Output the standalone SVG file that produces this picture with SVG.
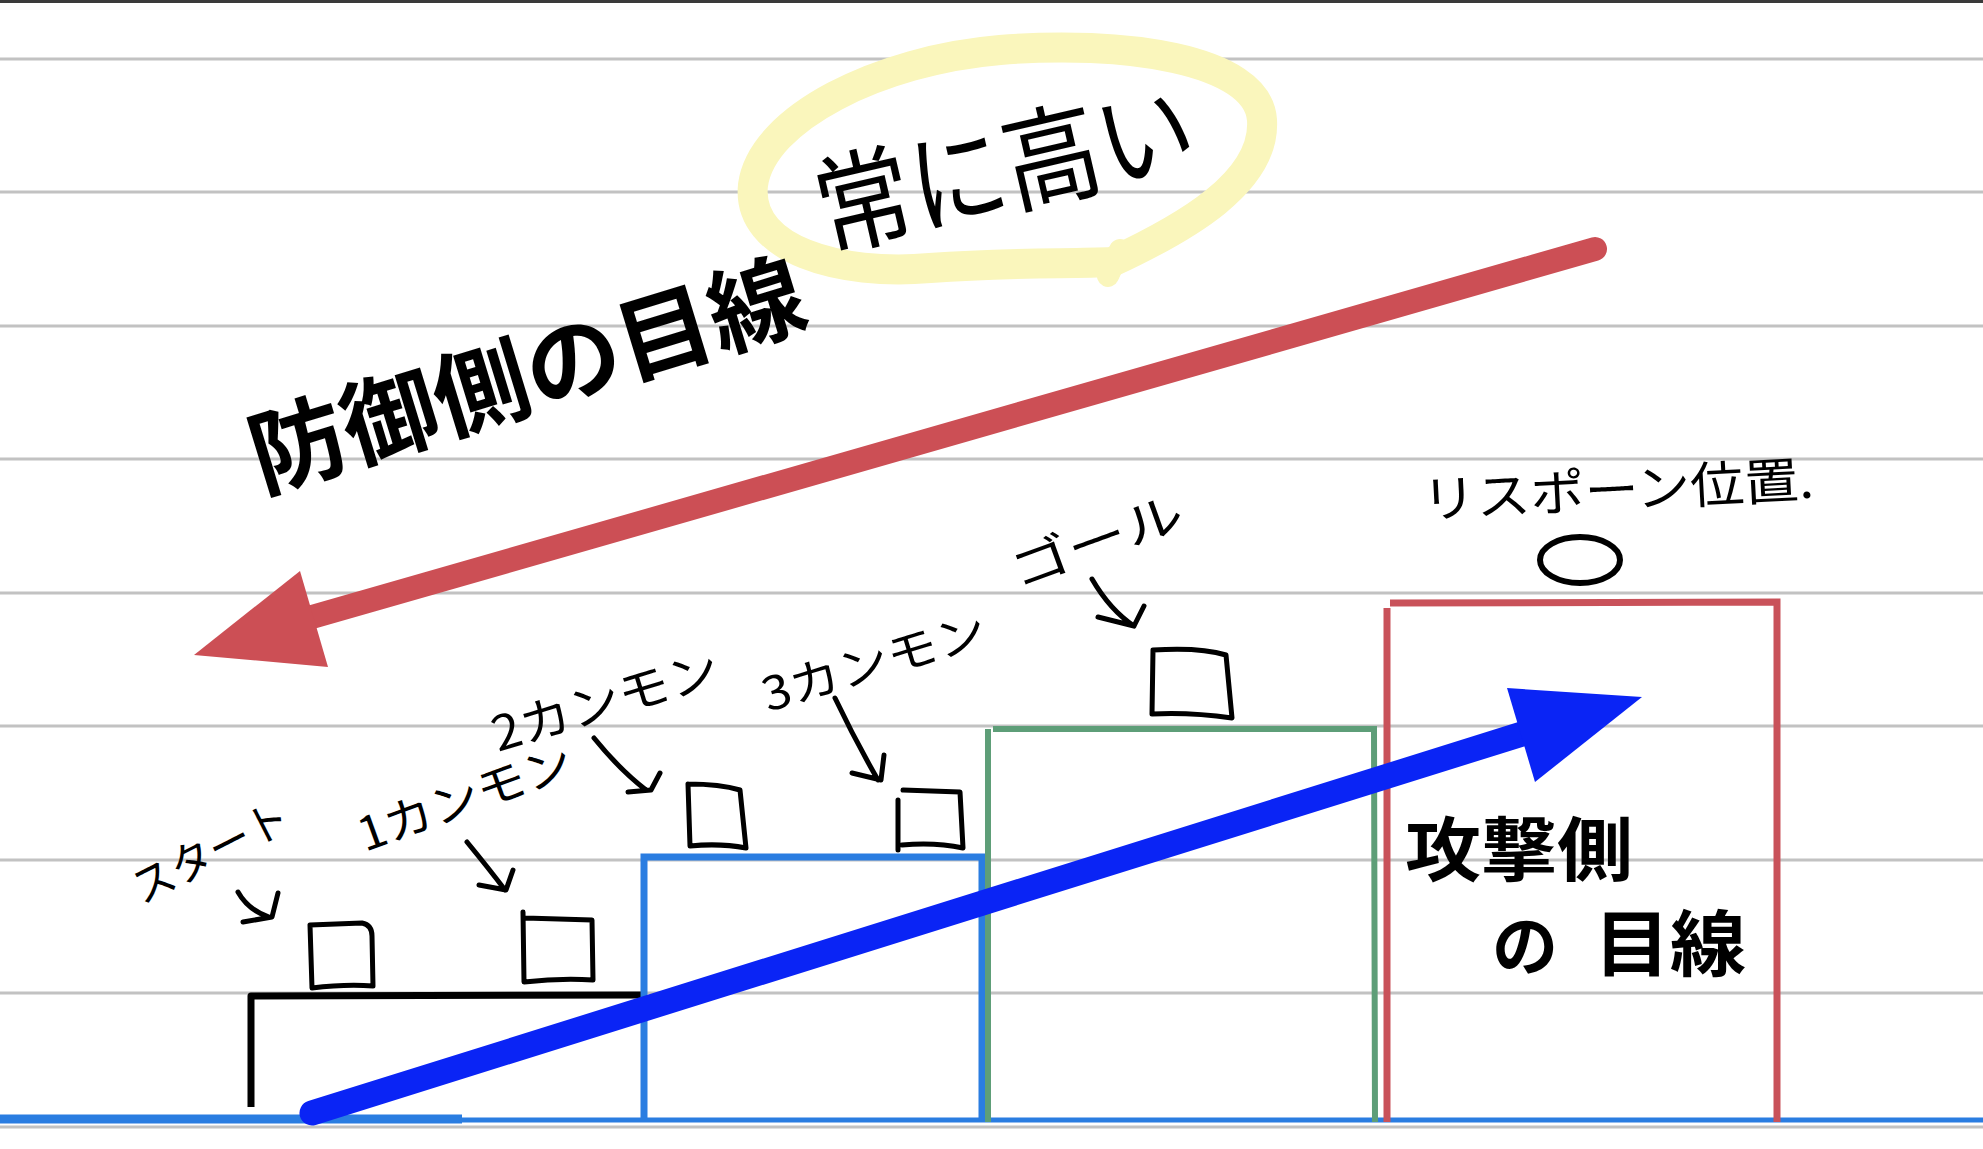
<svg xmlns="http://www.w3.org/2000/svg" width="1983" height="1149" viewBox="0 0 1983 1149">
<style>
.rule{stroke:#c2c2c2;stroke-width:3;fill:none}
.ink{stroke:#000;stroke-width:5;fill:none;stroke-linecap:round;stroke-linejoin:round}
.t{font-family:"Noto Sans CJK JP","Noto Sans",sans-serif;fill:#000}
.b{font-weight:700}
</style>
<rect width="1983" height="1149" fill="#fff"/>
<g id="paper">
<line x1="0" y1="1.5" x2="1983" y2="1.5" stroke="#3a3a3a" stroke-width="3"/>
<line class="rule" x1="0" y1="59" x2="1983" y2="59"/>
<line class="rule" x1="0" y1="192" x2="1983" y2="192"/>
<line class="rule" x1="0" y1="326" x2="1983" y2="326"/>
<line class="rule" x1="0" y1="459" x2="1983" y2="459"/>
<line class="rule" x1="0" y1="593" x2="1983" y2="593"/>
<line class="rule" x1="0" y1="726" x2="1983" y2="726"/>
<line class="rule" x1="0" y1="860" x2="1983" y2="860"/>
<line class="rule" x1="0" y1="993" x2="1983" y2="993"/>
<line class="rule" x1="0" y1="1127" x2="1983" y2="1127"/>
</g>
<g id="highlight">
<path d="M1112,262 C1185,228 1266,182 1262,120 C1258,58 1120,40 1000,50 C880,60 762,118 753,185 C746,250 840,276 930,268 C1010,262 1065,264 1112,262 Z" fill="none" stroke="#faf6bc" stroke-width="30" stroke-linejoin="round"/>
<path d="M1120,250 L1108,276" stroke="#faf6bc" stroke-width="22" stroke-linecap="round"/>
</g>
<g id="ground">
<line x1="0" y1="1120" x2="1983" y2="1120" stroke="#2a7de1" stroke-width="5"/>
<line x1="0" y1="1119" x2="462" y2="1119" stroke="#2a7de1" stroke-width="9"/>
</g>
<g id="step-start">
<path d="M251,1107 L251,996 L641,995" fill="none" stroke="#000" stroke-width="7" stroke-linejoin="round"/>
</g>
<g id="step-blue">
<path d="M644,1120 L644,857 L982,857 L982,1120" fill="none" stroke="#2a7de1" stroke-width="7"/>
</g>
<g id="step-green">
<path d="M988,1122 L988,729 M993,729 L1374,729 L1375,1122" fill="none" stroke="#5e9e78" stroke-width="6"/>
</g>
<g id="step-red">
<path d="M1387,1122 L1387,608 M1390,603 L1777,602 L1777,1122" fill="none" stroke="#c9525a" stroke-width="7"/>
</g>
<g id="boxes">
<path class="ink" d="M312,988 L310,925 L362,923 Q372,925 372,936 L373,986 Q345,984 312,988"/>
<path class="ink" d="M523,912 L524,982 Q560,978 593,980 L592,920 L525,918"/>
<path class="ink" d="M688,784 Q720,784 740,790 L746,848 Q720,843 690,846 L688,784"/>
<path class="ink" d="M898,800 L898,850 M902,845 Q935,842 963,848 L960,792 L903,790"/>
<path class="ink" d="M1153,650 L1152,714 Q1190,712 1232,718 L1226,655 Q1200,647 1153,650"/>
</g>
<g id="respawn">
<ellipse cx="1580" cy="560" rx="40" ry="23" fill="none" stroke="#000" stroke-width="6"/>
</g>
<g id="connectors">
<line x1="1595" y1="249" x2="305" y2="619" stroke="#cc4f55" stroke-width="24" stroke-linecap="round"/>
<polygon points="300,571 194,655 328,667" fill="#cc4f55"/>
<line x1="312" y1="1113" x2="1522" y2="734" stroke="#0a24f5" stroke-width="25" stroke-linecap="round"/>
<polygon points="1507,688 1642,697 1535,782" fill="#0a24f5"/>
<path class="ink" d="M238,892 Q248,910 269,917 M243,922 L272,917 L278,893"/>
<path class="ink" d="M467,842 Q490,870 505,890 M479,885 L506,890 L513,870"/>
<path class="ink" d="M594,738 Q620,770 646,790 M628,792 L651,790 L660,773"/>
<path class="ink" d="M835,698 Q855,740 878,780 M852,773 L881,780 L884,755"/>
<path class="ink" d="M1092,579 Q1110,610 1134,626 M1098,617 L1134,626 L1144,606"/>
</g>
<g id="labels">
<text class="t" x="0" y="0" font-size="78" textLength="385" lengthAdjust="spacingAndGlyphs" transform="translate(826,250) rotate(-13) scale(1,1.4)">常に高い</text>
<text class="t b" x="0" y="0" font-size="84" textLength="575" lengthAdjust="spacingAndGlyphs" transform="translate(262,492) rotate(-17) scale(1,1.12)">防御側の目線</text>
<text class="t" x="142" y="905" font-size="44" textLength="170" lengthAdjust="spacingAndGlyphs" transform="rotate(-27 142 905)">スタート</text>
<text class="t" x="365" y="852" font-size="46" textLength="225" lengthAdjust="spacingAndGlyphs" transform="rotate(-20 365 852)">1カンモン</text>
<text class="t" x="498" y="752" font-size="48" textLength="235" lengthAdjust="spacingAndGlyphs" transform="rotate(-17 498 752)">2カンモン</text>
<text class="t" x="768" y="712" font-size="46" textLength="232" lengthAdjust="spacingAndGlyphs" transform="rotate(-17 768 712)">3カンモン</text>
<text class="t" x="1018" y="588" font-size="48" textLength="180" lengthAdjust="spacingAndGlyphs" transform="rotate(-20 1018 588)">ゴール</text>
<text class="t" x="1423" y="518" font-size="50" textLength="392" lengthAdjust="spacingAndGlyphs" transform="rotate(-3 1423 518)">リスポーン位置.</text>
<text class="t b" x="1405" y="876" font-size="70" textLength="228" lengthAdjust="spacingAndGlyphs">攻撃側</text>
<text class="t b" x="1492" y="970" font-size="66">の</text>
<text class="t b" x="1594" y="970" font-size="72" textLength="152" lengthAdjust="spacingAndGlyphs">目線</text>
</g>
</svg>
